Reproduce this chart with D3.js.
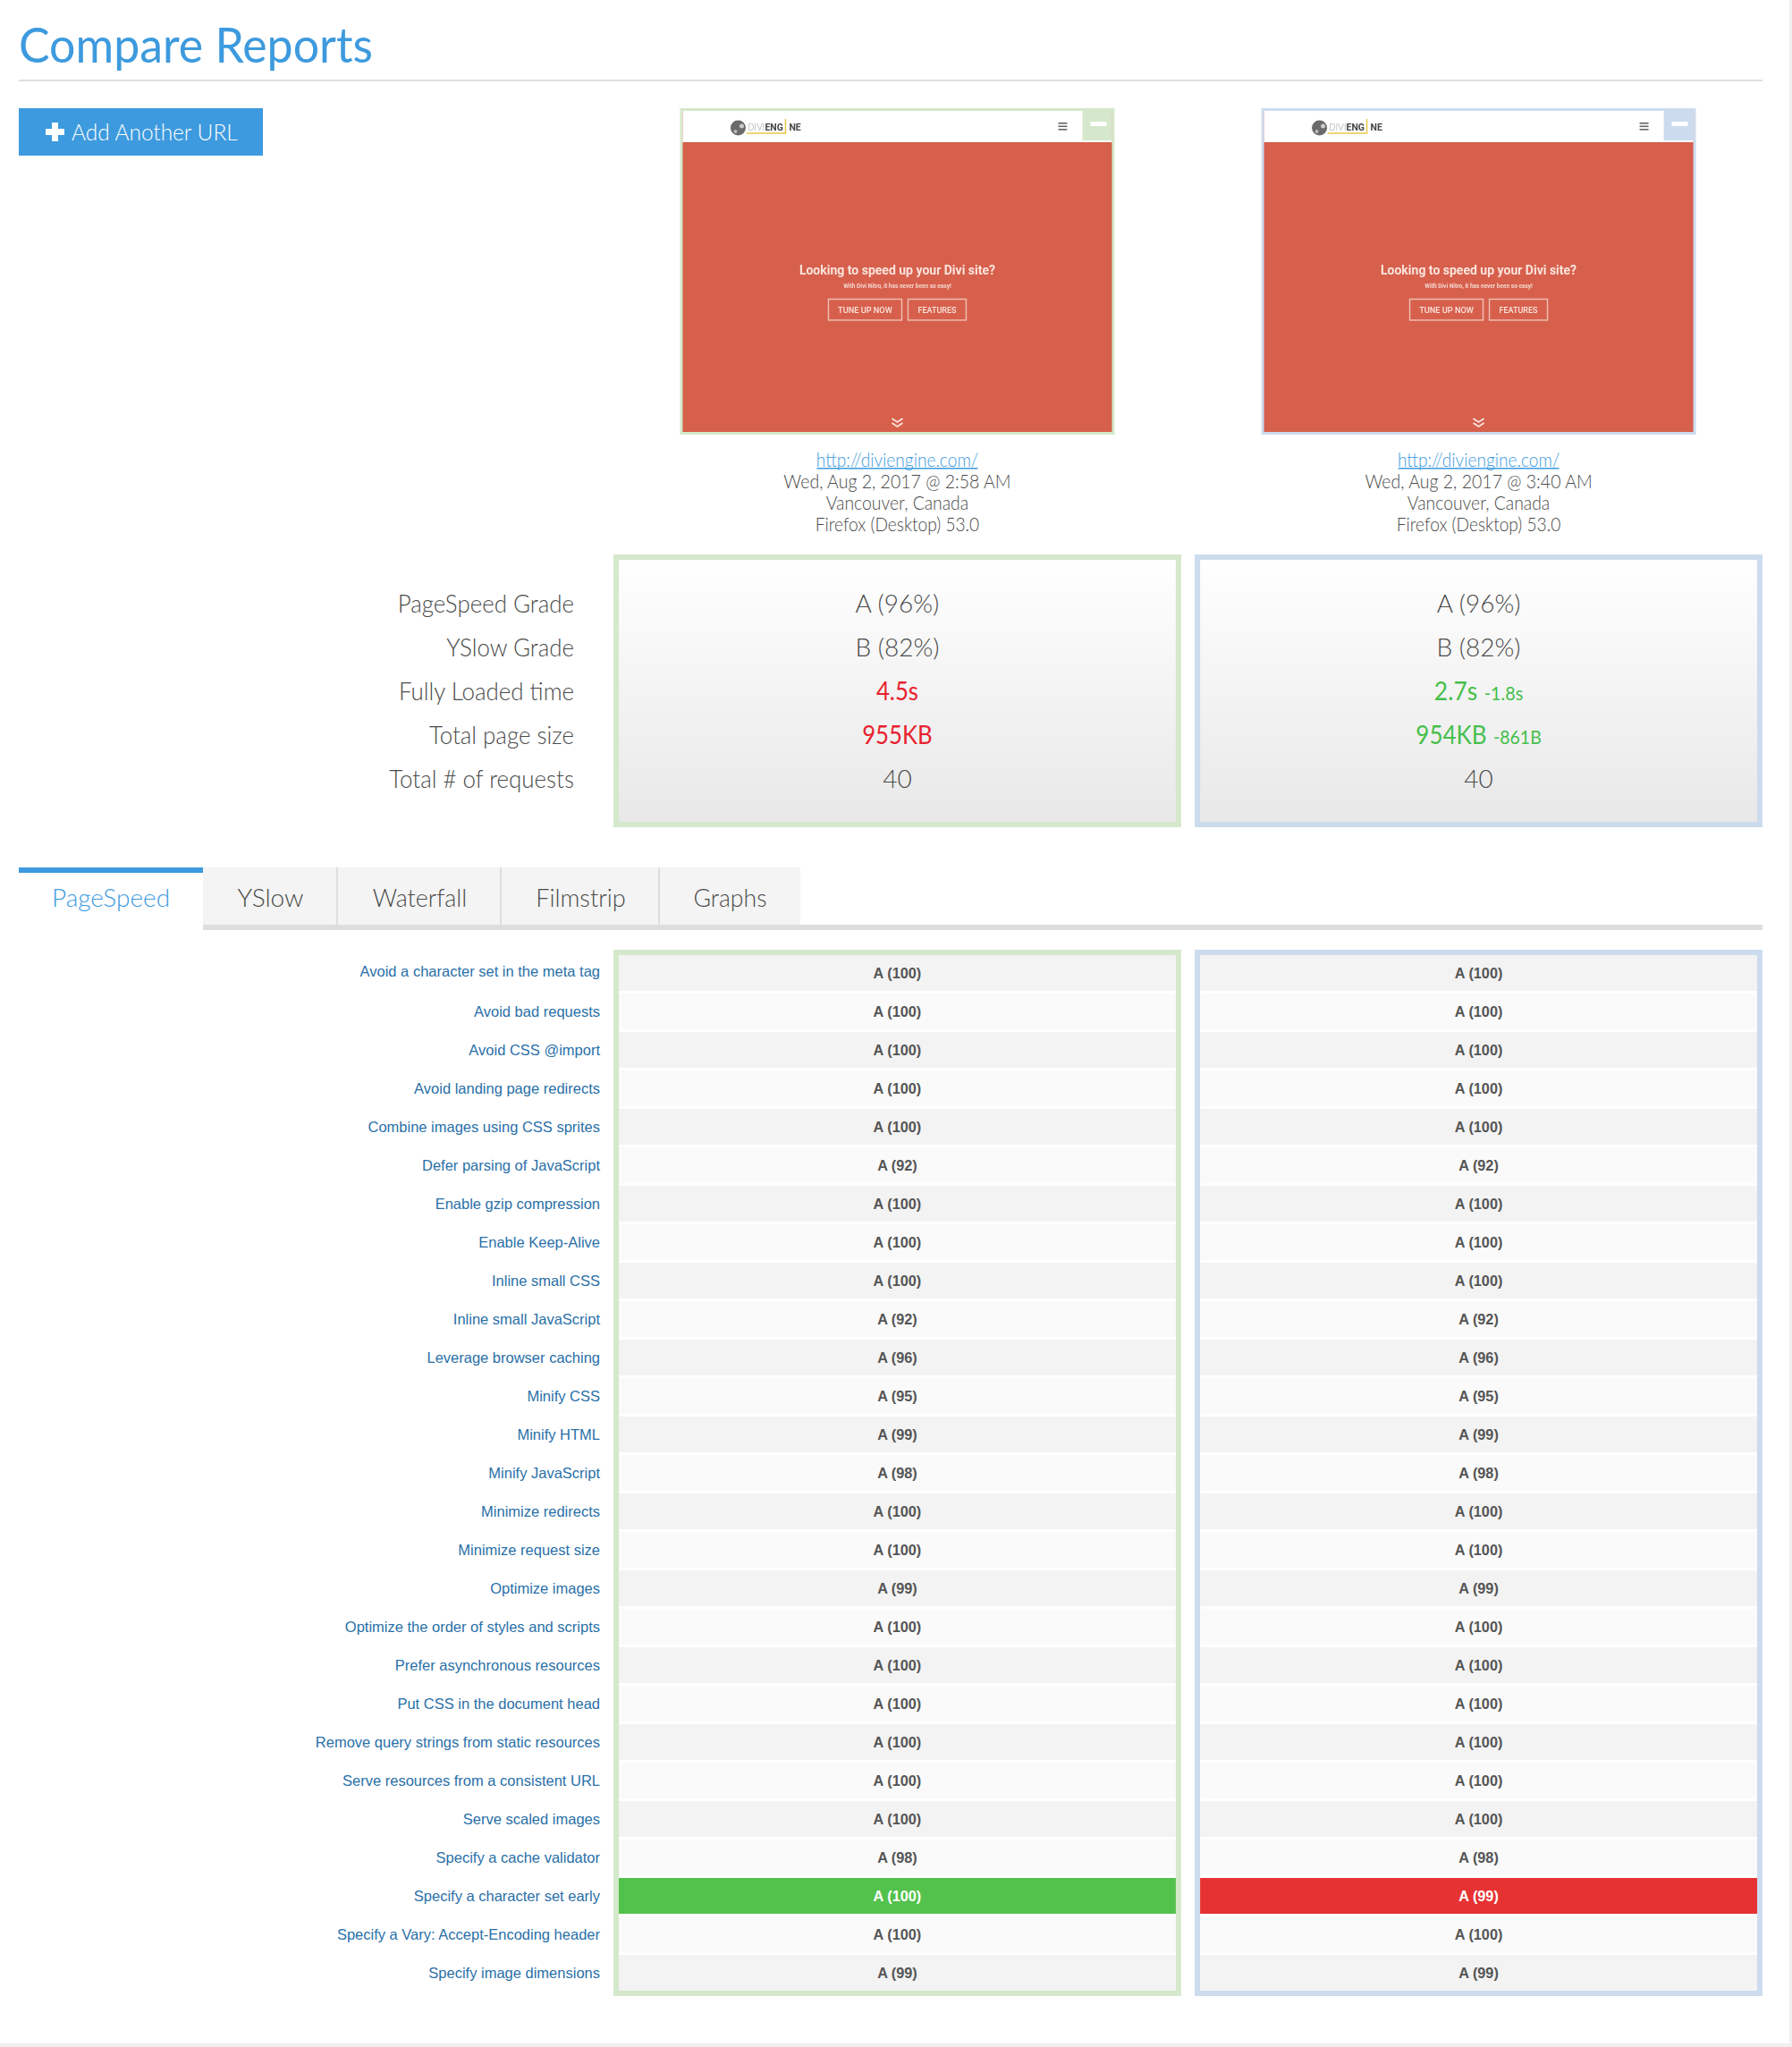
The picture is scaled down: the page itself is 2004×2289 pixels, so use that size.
<!DOCTYPE html>
<html>
<head>
<meta charset="utf-8">
<title>Compare Reports</title>
<script src="https://cdn.jsdelivr.net/npm/d3@7/dist/d3.min.js"></script>
<style>
  html, body { margin: 0; padding: 0; background: #fff; overflow: hidden; }
  svg { display: block; }
  text { font-family: Lato, sans-serif; font-weight: 300; fill: #4a4a4a; }
  .arial { font-family: "Liberation Sans", Arial, sans-serif; font-weight: 400; }
</style>
</head>
<body>
<svg id="page" width="2004" height="2289"></svg>
<script>
// report columns
var reportUrls = ['http://diviengine.com/', 'http://diviengine.com/'];
var reportDates = ['Wed, Aug 2, 2017 @ 2:58 AM', 'Wed, Aug 2, 2017 @ 3:40 AM'];
var reportPlaces = ['Vancouver, Canada', 'Vancouver, Canada'];
var reportBrowsers = ['Firefox (Desktop) 53.0', 'Firefox (Desktop) 53.0'];

// summary box
var summaryLabels = ['PageSpeed Grade', 'YSlow Grade', 'Fully Loaded time', 'Total page size', 'Total # of requests'];
var summaryFirst = ['A (96%)', 'B (82%)', '4.5s', '955KB', '40'];
var summarySecond = ['A (96%)', 'B (82%)', '2.7s', '954KB', '40'];
var summaryDelta = ['', '', '-1.8s', '-861B', ''];
var summaryFirstState = ['', '', 'worse', 'worse', ''];
var summarySecondState = ['', '', 'better', 'better', ''];

var tabNames = ['PageSpeed', 'YSlow', 'Waterfall', 'Filmstrip', 'Graphs'];

// PageSpeed rules
var ruleNames = [
  'Avoid a character set in the meta tag', 'Avoid bad requests', 'Avoid CSS @import',
  'Avoid landing page redirects', 'Combine images using CSS sprites', 'Defer parsing of JavaScript',
  'Enable gzip compression', 'Enable Keep-Alive', 'Inline small CSS', 'Inline small JavaScript',
  'Leverage browser caching', 'Minify CSS', 'Minify HTML', 'Minify JavaScript', 'Minimize redirects',
  'Minimize request size', 'Optimize images', 'Optimize the order of styles and scripts',
  'Prefer asynchronous resources', 'Put CSS in the document head', 'Remove query strings from static resources',
  'Serve resources from a consistent URL', 'Serve scaled images', 'Specify a cache validator',
  'Specify a character set early', 'Specify a Vary: Accept-Encoding header', 'Specify image dimensions'
];
var scoresFirst = [100, 100, 100, 100, 100, 92, 100, 100, 100, 92, 96, 95, 99, 98, 100, 100, 99, 100, 100, 100, 100, 100, 100, 98, 100, 100, 99];
var scoresSecond = [100, 100, 100, 100, 100, 92, 100, 100, 100, 92, 96, 95, 99, 98, 100, 100, 99, 100, 100, 100, 100, 100, 100, 98, 99, 100, 99];

var BLUE = '#3d9ade', GREEN_EDGE = '#d5e8cb', BLUE_EDGE = '#ccdcee', BAND = '#dedede';
var GOOD = '#53c24c', BAD = '#e63232', LINK = '#2a70a8', TEXT = '#4a4a4a';
var edges = [GREEN_EDGE, BLUE_EDGE];

var svg = d3.select('#page');

var defs = svg.append('defs');
var grad = defs.append('linearGradient').attr('id', 'boxfill')
  .attr('x1', 0).attr('y1', 0).attr('x2', 0).attr('y2', 1);
grad.append('stop').attr('offset', 0).attr('stop-color', '#fff');
grad.append('stop').attr('offset', 1).attr('stop-color', '#e8e8e8');
defs.append('filter').attr('id', 'soft').append('feGaussianBlur').attr('stdDeviation', 0.6);

// the two report columns share one x layout
var columns = d3.scaleBand().domain([0, 1]).range([686, 1971]).paddingInner(15 / 642);
var center = function(i) { return columns(i) + columns.bandwidth() / 2; };

// squeeze the light font down to the reference's narrower face
function squeeze(sel, k) {
  sel.each(function(d, i) {
    var len = this.getComputedTextLength();
    var factor = typeof k === 'function' ? k(d, i) : k;
    d3.select(this).attr('textLength', len * factor).attr('lengthAdjust', 'spacingAndGlyphs');
  });
  return sel;
}

// page frame
svg.append('rect').attr('x', 2001).attr('y', 0).attr('width', 3).attr('height', 2289).attr('fill', '#f0f0f0');
svg.append('rect').attr('x', 0).attr('y', 2285).attr('width', 2004).attr('height', 4).attr('fill', '#f0f0f0');

squeeze(svg.append('text').attr('x', 21).attr('y', 70).attr('font-size', 54)
  .style('fill', BLUE).style('font-weight', 400).text('Compare Reports'), 0.96);
svg.append('rect').attr('x', 21).attr('y', 89).attr('width', 1950).attr('height', 2).attr('fill', BAND);

// add url button
svg.append('rect').attr('x', 21).attr('y', 121).attr('width', 273).attr('height', 53).attr('fill', BLUE);
svg.append('rect').attr('x', 51).attr('y', 144).attr('width', 21).attr('height', 7).attr('fill', '#fff');
svg.append('rect').attr('x', 58).attr('y', 137).attr('width', 7).attr('height', 21).attr('fill', '#fff');
squeeze(svg.append('text').attr('x', 80).attr('y', 157).attr('font-size', 26)
  .style('fill', '#fff').text('Add Another URL'), 0.94);

// screenshots
var thumbs = svg.selectAll('g.thumb').data([0, 1]).join('g').attr('class', 'thumb')
  .attr('transform', function(i) { return 'translate(' + (center(i) - 243) + ',121)'; });
thumbs.append('rect').attr('width', 486).attr('height', 365).attr('fill', function(i) { return edges[i]; });
thumbs.append('rect').attr('x', 3).attr('y', 3).attr('width', 480).attr('height', 359).attr('fill', '#d6604c');
thumbs.append('rect').attr('x', 3).attr('y', 3).attr('width', 480).attr('height', 35).attr('fill', '#fff');
thumbs.append('rect').attr('x', 450).attr('y', 3).attr('width', 33).attr('height', 33).attr('fill', function(i) { return edges[i]; });
thumbs.append('rect').attr('x', 459).attr('y', 15).attr('width', 18).attr('height', 5).attr('fill', '#fff');

var inner = thumbs.append('g').attr('filter', 'url(#soft)');
inner.append('circle').attr('cx', 65).attr('cy', 22).attr('r', 8.5).attr('fill', '#6a6a6a');
inner.append('circle').attr('cx', 69).attr('cy', 20).attr('r', 2.5).attr('fill', '#ccc');
inner.append('circle').attr('cx', 62).attr('cy', 26).attr('r', 2).attr('fill', '#bbb');
inner.append('path').attr('d', 'M74 28H118V12').attr('fill', 'none').attr('stroke', '#e6c84a').attr('stroke-width', 1.5);
inner.append('text').attr('x', 76).attr('y', 25).attr('font-size', 10.5).style('font-family', 'Roboto').style('fill', '#aaa').text('DIVI');
inner.append('text').attr('x', 95).attr('y', 25).attr('font-size', 10.5).style('font-family', 'Roboto').style('font-weight', 700).style('fill', '#444').text('ENG');
inner.append('text').attr('x', 122).attr('y', 25).attr('font-size', 10.5).style('font-family', 'Roboto').style('font-weight', 700).style('fill', '#444').text('NE');
inner.selectAll('rect.burger').data([16, 19.5, 23]).join('rect').attr('class', 'burger')
  .attr('x', 423).attr('y', function(d) { return d; }).attr('width', 10).attr('height', 1.6).attr('fill', '#666');

inner.append('text').attr('x', 243).attr('y', 186).attr('text-anchor', 'middle').attr('font-size', 14)
  .style('font-family', 'Roboto').style('font-weight', 700).style('fill', '#fbe3dc').text('Looking to speed up your Divi site?');
inner.append('text').attr('x', 243).attr('y', 201).attr('text-anchor', 'middle').attr('font-size', 6.5)
  .style('font-family', 'Roboto').style('font-weight', 700).style('fill', '#f6d5cc').text('With Divi Nitro, it has never been so easy!');
inner.append('rect').attr('x', 166).attr('y', 213.5).attr('width', 82).attr('height', 23.5)
  .attr('fill', 'none').attr('stroke', '#f0c0b3').attr('stroke-width', 1.4);
inner.append('rect').attr('x', 255).attr('y', 213.5).attr('width', 65).attr('height', 23.5)
  .attr('fill', 'none').attr('stroke', '#f0c0b3').attr('stroke-width', 1.4);
inner.append('text').attr('x', 207).attr('y', 228.5).attr('text-anchor', 'middle').attr('font-size', 9.2)
  .style('font-family', 'Roboto').style('font-weight', 500).style('fill', '#fbe3dc').text('TUNE UP NOW');
inner.append('text').attr('x', 287.5).attr('y', 228.5).attr('text-anchor', 'middle').attr('font-size', 9)
  .style('font-family', 'Roboto').style('font-weight', 500).style('fill', '#fbe3dc').text('FEATURES');
inner.append('path').attr('d', 'M237 347l6 4 6-4M237 352l6 4 6-4').attr('fill', 'none')
  .attr('stroke', '#fbe3dc').attr('stroke-width', 1.8);

// report captions
var captions = svg.selectAll('g.caption').data([0, 1]).join('g').attr('class', 'caption')
  .attr('transform', function(i) { return 'translate(' + center(i) + ',0)'; })
  .attr('text-anchor', 'middle').attr('font-size', 22);
squeeze(captions.append('text').attr('y', 522).style('fill', BLUE)
  .text(function(i) { return reportUrls[i]; }), 0.87);
captions.append('rect').attr('x', -90).attr('y', 523).attr('width', 180).attr('height', 1.5).attr('fill', BLUE);
squeeze(captions.append('text').attr('y', 546).text(function(i) { return reportDates[i]; }), 0.888);
squeeze(captions.append('text').attr('y', 570).text(function(i) { return reportPlaces[i]; }), 0.88);
squeeze(captions.append('text').attr('y', 594).text(function(i) { return reportBrowsers[i]; }), 0.87);

// panel with a thick coloured edge
function panel(top, bottom, fill) {
  svg.selectAll(null).data([0, 1]).join('rect')
    .attr('x', function(i) { return columns(i) + 3; })
    .attr('y', top + 3)
    .attr('width', columns.bandwidth() - 6)
    .attr('height', bottom - top - 6)
    .attr('fill', fill)
    .attr('stroke', function(i) { return edges[i]; })
    .attr('stroke-width', 6);
}

// summary box
panel(620, 925, 'url(#boxfill)');
var summaryY = d3.scalePoint().domain(summaryLabels).range([675, 871]);
squeeze(svg.selectAll('text.summary-label').data(summaryLabels).join('text').attr('class', 'summary-label')
  .attr('x', 642).attr('y', function(d) { return summaryY(d); }).attr('dy', '0.35em')
  .attr('text-anchor', 'end').attr('font-size', 28).text(function(d) { return d; }), 0.925);

var stateColor = { worse: '#e8212e', better: '#46bf4c', '': TEXT };
// coloured values read heavier and narrower than the plain ones
function stateWeight(state) { return state ? 400 : 300; }

squeeze(svg.selectAll('text.summary-first').data(summaryFirst).join('text').attr('class', 'summary-first')
  .attr('x', center(0)).attr('y', function(d, i) { return summaryY(summaryLabels[i]); }).attr('dy', '0.35em')
  .attr('text-anchor', 'middle').attr('font-size', 28)
  .style('font-weight', function(d, i) { return stateWeight(summaryFirstState[i]); })
  .style('fill', function(d, i) { return stateColor[summaryFirstState[i]]; })
  .text(function(d) { return d; }), function(d, i) { return summaryFirstState[i] ? 0.92 : 1; });

var secondSqueeze = [1, 1, 1.02, 0.98, 1];
var second = svg.selectAll('text.summary-second').data(summarySecond).join('text').attr('class', 'summary-second')
  .attr('x', center(1)).attr('y', function(d, i) { return summaryY(summaryLabels[i]); }).attr('dy', '0.35em')
  .attr('text-anchor', 'middle').attr('font-size', 28)
  .style('font-weight', function(d, i) { return stateWeight(summarySecondState[i]); })
  .style('fill', function(d, i) { return stateColor[summarySecondState[i]]; });
second.append('tspan').text(function(d) { return d; });
second.append('tspan').attr('font-size', 21).attr('dx', 8)
  .style('fill', function(d, i) { return stateColor[summarySecondState[i]]; })
  .text(function(d, i) { return summaryDelta[i]; });
squeeze(second, function(d, i) { return secondSqueeze[i]; });

// tabs
var tabEdges = [21, 227, 378, 561, 738, 895];
var tabSqueeze = [1, 1, 0.96, 0.97, 0.95];
var tabs = svg.selectAll('g.tab').data(tabNames).join('g').attr('class', 'tab');
tabs.append('rect')
  .attr('x', function(d, i) { return tabEdges[i]; })
  .attr('y', 970)
  .attr('width', function(d, i) { return tabEdges[i + 1] - tabEdges[i] - (i > 0 && i < 4 ? 2 : 0); })
  .attr('height', 64)
  .attr('fill', function(d, i) { return i === 0 ? '#fff' : '#f4f4f4'; });
svg.selectAll('rect.tab-divider').data(tabEdges.slice(2, 5)).join('rect').attr('class', 'tab-divider')
  .attr('x', function(d) { return d - 2; }).attr('y', 970).attr('width', 2).attr('height', 64).attr('fill', BAND);
svg.append('rect').attr('x', 21).attr('y', 970).attr('width', 206).attr('height', 6).attr('fill', BLUE);
svg.append('rect').attr('x', 227).attr('y', 1034).attr('width', 1744).attr('height', 6).attr('fill', BAND);
squeeze(tabs.append('text')
  .attr('x', function(d, i) { return (tabEdges[i] + tabEdges[i + 1]) / 2; })
  .attr('y', 1004).attr('dy', '0.35em').attr('text-anchor', 'middle').attr('font-size', 28)
  .style('fill', function(d, i) { return i === 0 ? BLUE : TEXT; })
  .text(function(d) { return d; }), function(d, i) { return tabSqueeze[i]; });

// rule table
panel(1062, 2232, '#fff');
var rowY = d3.scaleBand().domain(ruleNames).range([1068, 2226]).paddingInner(3 / 43);

svg.selectAll('text.rule').data(ruleNames).join('text').attr('class', 'rule arial')
  .attr('x', 671)
  .attr('y', function(d, i) { return rowY(d) + rowY.bandwidth() / 2 + (i === 0 ? -2 : 0.5); })
  .attr('dy', '0.35em').attr('text-anchor', 'end').attr('font-size', 16.5)
  .style('fill', LINK).text(function(d) { return d; });

// a score that differs between the reports gets a green or red row
function rowFill(i, col) {
  var mine = col === 0 ? scoresFirst[i] : scoresSecond[i];
  var other = col === 0 ? scoresSecond[i] : scoresFirst[i];
  if (mine > other) return GOOD;
  if (mine < other) return BAD;
  return i % 2 === 0 ? '#f3f3f3' : '#fafafa';
}

[scoresFirst, scoresSecond].forEach(function(scores, col) {
  var g = svg.append('g');
  g.selectAll('rect').data(scores).join('rect')
    .attr('x', columns(col) + 6)
    .attr('y', function(d, i) { return rowY(ruleNames[i]); })
    .attr('width', columns.bandwidth() - 12)
    .attr('height', rowY.bandwidth())
    .attr('fill', function(d, i) { return rowFill(i, col); });
  g.selectAll('text').data(scores).join('text').attr('class', 'arial')
    .attr('x', center(col))
    .attr('y', function(d, i) { return rowY(ruleNames[i]) + rowY.bandwidth() / 2; })
    .attr('dy', '0.35em').attr('text-anchor', 'middle').attr('font-size', 16.3)
    .style('font-weight', 700)
    .style('fill', function(d, i) {
      return scoresFirst[i] !== scoresSecond[i] ? '#fff' : '#555';
    })
    .text(function(d) { return 'A (' + d + ')'; });
});
</script>
</body>
</html>
